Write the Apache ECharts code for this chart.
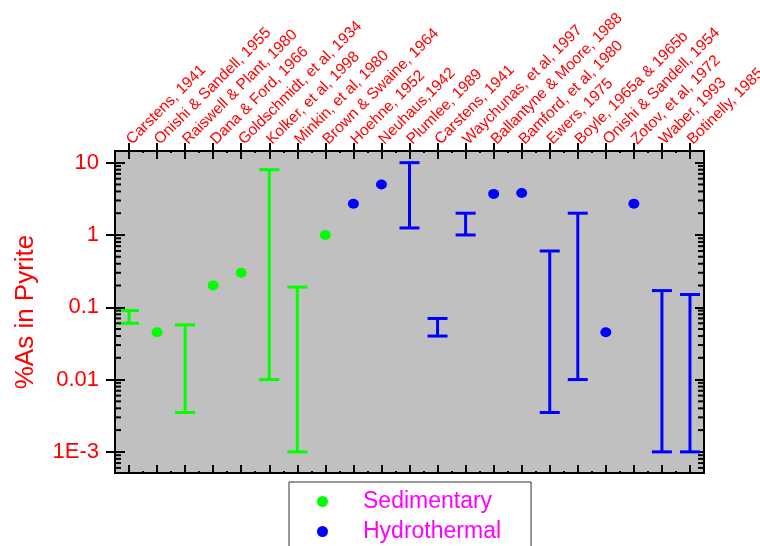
<!DOCTYPE html>
<html>
<head>
<meta charset="utf-8">
<script src="https://cdn.jsdelivr.net/npm/echarts@6/dist/echarts.min.js"></script>
<style>html,body{margin:0;padding:0;background:#fff}#c{width:760px;height:546px}</style>
</head>
<body>
<div id="c"></div>
<script>
const categories = ['Carstens, 1941','Onishi & Sandell, 1955','Raiswell & Plant, 1980','Dana & Ford, 1966','Goldschmidt, et al, 1934','Kolker, et al, 1998','Minkin, et al, 1980','Brown & Swaine, 1964','Hoehne, 1952','Neuhaus,1942','Plumlee, 1989','Carstens, 1941','Waychunas, et al, 1997','Ballantyne & Moore, 1988','Bamford, et al, 1980','Ewers, 1975','Boyle, 1965a & 1965b','Onishi & Sandell, 1954','Zotov, et al, 1972','Waber, 1993','Botinelly, 1985'];
// single-value observations
const sedimentaryPoints  = [null,0.045,null,0.2,0.3,null,null,1.0,null,null,null,null,null,null,null,null,null,null,null,null,null];
const hydrothermalPoints = [null,null,null,null,null,null,null,null,2.7,5.0,null,null,null,3.7,3.8,null,null,0.045,2.7,null,null];
// ranges (low / high)
const sedimentaryLow   = [0.06,null,0.0035,null,null,0.01,0.001,null,null,null,null,null,null,null,null,null,null,null,null,null,null];
const sedimentaryHigh  = [0.09,null,0.057,null,null,8,0.19,null,null,null,null,null,null,null,null,null,null,null,null,null,null];
const hydrothermalLow  = [null,null,null,null,null,null,null,null,null,null,1.25,0.04,1.0,null,null,0.0035,0.01,null,null,0.001,0.001];
const hydrothermalHigh = [null,null,null,null,null,null,null,null,null,null,10,0.07,2.0,null,null,0.6,2.0,null,null,0.17,0.15];
const yTickLabels = {'0.001':'1E-3','0.01':'0.01','0.1':'0.1','1':'1','10':'10'};
const yMin = 5.1e-4, yMax = 14.5;

const FONT = 'Liberation Sans, Arial, sans-serif';
const GREEN = '#00ff00', BLUE = '#0000ff', RED = '#ff0000';

function rangeData(low, high){
  const out = [];
  low.forEach((l,i)=>{ if(l!=null && high[i]!=null) out.push([i,l,high[i]]); });
  return out;
}
function pointData(arr){
  const out = [];
  arr.forEach((v,i)=>{ if(v!=null) out.push([i,v]); });
  return out;
}
// log minor tick positions (axis decoration)
const minorVals = [];
for (let e=-4; e<=1; e++) for (let m=2; m<=9; m++){ const v = m*Math.pow(10,e); if (v>yMin && v<yMax) minorVals.push([0,v]); }

function errorBar(color){
  return function(params, api){
    const x = api.value(0);
    const p1 = api.coord([x, api.value(1)]);
    const p2 = api.coord([x, api.value(2)]);
    const hw = 10;
    const st = {stroke: color, lineWidth: 3};
    return {type:'group', children:[
      {type:'line', shape:{x1:p1[0],y1:p1[1],x2:p2[0],y2:p2[1]}, style:st},
      {type:'line', shape:{x1:p1[0]-hw,y1:p1[1],x2:p1[0]+hw,y2:p1[1]}, style:st},
      {type:'line', shape:{x1:p2[0]-hw,y1:p2[1],x2:p2[0]+hw,y2:p2[1]}, style:st}
    ]};
  };
}

const chart = echarts.init(document.getElementById('c'), null, {renderer:'canvas'});
const axisLine = {show:true, lineStyle:{color:'#000', width:2}};
const yBase = {type:'log', logBase:10, min:yMin, max:yMax, splitLine:{show:false}, axisLine: axisLine};
const xBase = {type:'category', data:categories, boundaryGap:true, splitLine:{show:false}, axisLine: axisLine};
const tk = {color:'#000', width:2};

chart.setOption({
  animation:false,
  textStyle:{fontFamily:FONT},
  grid:{left:115, right:56, top:151, bottom:73, containLabel:false, outerBoundsMode:'none', show:true, backgroundColor:'#c0c0c0', borderColor:'#000', borderWidth:2},
  xAxis:[
    Object.assign({}, xBase, {position:'top', axisTick:{show:true, interval:0, alignWithLabel:true, inside:false, length:8, lineStyle:tk},
      axisLabel:{show:true, interval:0, rotate:-45, margin:9, color:RED, fontSize:15.5, fontFamily:FONT, hideOverlap:false}}),
    Object.assign({}, xBase, {position:'top', axisTick:{show:true, interval:0, alignWithLabel:true, inside:true, length:8, lineStyle:tk}, axisLabel:{show:false}}),
    Object.assign({}, xBase, {position:'top', axisTick:{show:true, interval:0, alignWithLabel:false, inside:true, length:2, lineStyle:tk}, axisLabel:{show:false}}),
    Object.assign({}, xBase, {position:'bottom', axisTick:{show:true, interval:0, alignWithLabel:true, inside:true, length:8, lineStyle:tk}, axisLabel:{show:false}}),
    Object.assign({}, xBase, {position:'bottom', axisTick:{show:true, interval:0, alignWithLabel:false, inside:true, length:2, lineStyle:tk}, axisLabel:{show:false}})
  ],
  yAxis:[
    Object.assign({}, yBase, {position:'left', name:'%As in Pyrite', nameLocation:'middle', nameGap:76, nameRotate:90,
      nameTextStyle:{color:RED, fontSize:26, fontFamily:FONT},
      axisTick:{show:true, inside:false, length:9, lineStyle:tk},
      axisLabel:{show:true, margin:16, color:RED, fontSize:22, fontFamily:FONT, showMinLabel:false, showMaxLabel:false,
        formatter:function(v){ const k = String(+v.toPrecision(6)); return yTickLabels[k] !== undefined ? yTickLabels[k] : ''; }}}),
    Object.assign({}, yBase, {position:'left', axisTick:{show:true, inside:true, length:10, lineStyle:tk}, axisLabel:{show:false}}),
    Object.assign({}, yBase, {position:'right', axisTick:{show:true, inside:true, length:9, lineStyle:tk}, axisLabel:{show:false}})
  ],
  legend:{
    orient:'vertical', left:289, top:482, height:200, data:['Sedimentary','Hydrothermal'], icon:'circle',
    itemWidth:11, itemHeight:11, itemGap:7, borderColor:'#333', borderWidth:1, backgroundColor:'#fff',
    padding:[8,30,30,28], selectedMode:false,
    itemStyle:{opacity:1},
    textStyle:{color:'#ff00ff', fontSize:23, fontFamily:FONT, lineHeight:23, padding:[0,0,0,30]}
  },
  series:[
    {type:'custom', name:'minor', xAxisIndex:0, yAxisIndex:0, data:minorVals, silent:true, z:5,
      renderItem:function(params, api){
        const y = api.coord([0, api.value(1)])[1];
        const cs = params.coordSys;
        const st = {stroke:'#000', lineWidth:2};
        return {type:'group', children:[
          {type:'line', shape:{x1:cs.x, y1:y, x2:cs.x+6, y2:y}, style:st},
          {type:'line', shape:{x1:cs.x+cs.width-6, y1:y, x2:cs.x+cs.width, y2:y}, style:st}
        ]};
      }},
    {type:'custom', name:'Sedimentary range', xAxisIndex:0, yAxisIndex:0, data:rangeData(sedimentaryLow, sedimentaryHigh), renderItem:errorBar(GREEN), z:3},
    {type:'custom', name:'Hydrothermal range', xAxisIndex:0, yAxisIndex:0, data:rangeData(hydrothermalLow, hydrothermalHigh), renderItem:errorBar(BLUE), z:3},
    {type:'scatter', name:'Sedimentary', xAxisIndex:0, yAxisIndex:0, data:pointData(sedimentaryPoints), symbol:'circle', symbolSize:[11,10], itemStyle:{color:GREEN, opacity:1}, z:4},
    {type:'scatter', name:'Hydrothermal', xAxisIndex:0, yAxisIndex:0, data:pointData(hydrothermalPoints), symbol:'circle', symbolSize:[11,10], itemStyle:{color:BLUE, opacity:1}, z:4}
  ]
});
</script>
</body>
</html>
